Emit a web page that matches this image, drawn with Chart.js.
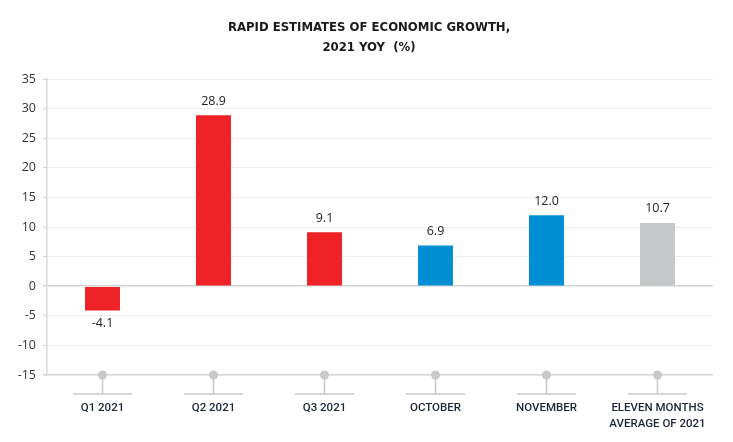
<!DOCTYPE html>
<html>
<head>
<meta charset="utf-8">
<script src="https://cdn.jsdelivr.net/npm/chart.js@4/dist/chart.umd.min.js"></script>
<style>
  html, body { margin: 0; padding: 0; background: #ffffff; }
  #wrap { width: 733px; height: 442px; position: relative; }
</style>
</head>
<body>
<div id="wrap"><canvas id="c" width="733" height="442"></canvas></div>
<script>
const categories = [["Q1 2021"], ["Q2 2021"], ["Q3 2021"], ["OCTOBER"], ["NOVEMBER"], ["ELEVEN MONTHS", "AVERAGE OF 2021"]];
const growthValues = [-4.1, 28.9, 9.1, 6.9, 12.0, 10.7];
const barColors = ["#ee2227", "#ee2227", "#ee2227", "#008fd5", "#008fd5", "#c6c7c9"];
const yTicks = [35, 30, 25, 20, 15, 10, 5, 0, -5, -10, -15];
const titleLines = ["RAPID ESTIMATES OF ECONOMIC GROWTH,", "2021 YOY\u00a0 (%)"];

const condensed = "'Liberation Sans Narrow', 'DejaVu Sans Condensed', Roboto, sans-serif";
const regular = "'Open Sans', 'Noto Sans', sans-serif";

const decoPlugin = {
  id: 'deco',
  afterDatasetsDraw(chart) {
    const ctx = chart.ctx;
    const x = chart.scales.x, y = chart.scales.y;
    const base = y.getPixelForValue(-15);
    ctx.save();
    categories.forEach((c, i) => {
      const cx = x.getPixelForValue(i);
      ctx.strokeStyle = '#c8c8c8';
      ctx.lineWidth = 1.5;
      ctx.beginPath();
      ctx.moveTo(cx, base);
      ctx.lineTo(cx, base + 19);
      ctx.moveTo(cx - 29.5, base + 19);
      ctx.lineTo(cx + 29.5, base + 19);
      ctx.stroke();
      ctx.fillStyle = '#c8c8c8';
      ctx.beginPath();
      ctx.arc(cx, base, 4.5, 0, Math.PI * 2);
      ctx.fill();
    });
    const meta = chart.getDatasetMeta(0);
    ctx.font = "12.5px " + regular;
    ctx.fillStyle = '#222222';
    ctx.textAlign = 'center';
    ctx.textBaseline = 'middle';
    meta.data.forEach((bar, i) => {
      const v = growthValues[i];
      const ty = v >= 0 ? bar.y - 14 : bar.y + 13;
      ctx.fillText(v.toFixed(1), bar.x, ty);
    });
    ctx.restore();
  }
};

new Chart(document.getElementById('c'), {
  type: 'bar',
  data: {
    labels: categories,
    datasets: [{
      data: growthValues,
      backgroundColor: barColors,
      borderWidth: 0,
      barPercentage: 0.315,
      categoryPercentage: 1.0
    }]
  },
  options: {
    responsive: false,
    animation: false,
    devicePixelRatio: 1,
    layout: { padding: { left: 5, right: 0, top: 0, bottom: 0 } },
    plugins: {
      legend: { display: false },
      tooltip: { enabled: false },
      title: {
        display: true,
        text: titleLines,
        color: '#1a1a1a',
        font: { family: condensed, size: 13, weight: 'bold', lineHeight: 1.58 },
        padding: { top: 17, bottom: 21 }
      }
    },
    scales: {
      x: {
        grid: { display: false, drawTicks: false },
        border: { display: false },
        ticks: {
          padding: 25,
          color: '#1c2638',
          font: { family: "Roboto, sans-serif", size: 11.5, weight: '500', lineHeight: 1.4 },
          maxRotation: 0,
          autoSkip: false
        },
        afterFit(scale) { scale.height = 67; scale.paddingLeft = 0; scale.paddingRight = 20; }
      },
      y: {
        min: -15,
        max: 35,
        afterBuildTicks(scale) { scale.ticks = yTicks.map(v => ({ value: v })); },
        grid: {
          color: (c) => (c.tick && (c.tick.value === 0 || c.tick.value === -15)) ? '#d2d2d2' : '#ececec',
          lineWidth: (c) => (c.tick && (c.tick.value === 0 || c.tick.value === -15)) ? 1.5 : 1,
          tickColor: '#d2d2d2',
          tickLength: 4
        },
        border: { display: true, color: '#d8d8d8', width: 1.5 },
        ticks: {
          padding: 7,
          color: '#333333',
          font: { family: regular, size: 12.5 }
        },
        afterFit(scale) { scale.width = 42; }
      }
    }
  },
  plugins: [decoPlugin]
});
</script>
</body>
</html>
